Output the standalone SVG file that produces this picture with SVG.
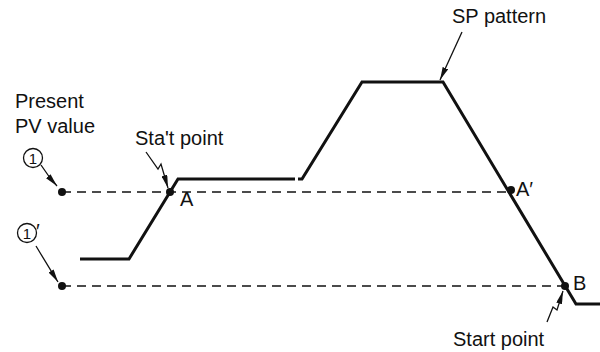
<svg xmlns="http://www.w3.org/2000/svg" width="600" height="352" viewBox="0 0 600 352">
<style>
text{font-family:"Liberation Sans",Arial,sans-serif;font-size:20px;fill:#111}
.small{font-size:15px}
.trace{fill:none;stroke:#111;stroke-width:3;stroke-linejoin:miter}
.dash{fill:none;stroke:#111;stroke-width:1.3;stroke-dasharray:9 6}
.lead{fill:none;stroke:#111;stroke-width:1.3}
.dot{fill:#111}
.ring{fill:none;stroke:#111;stroke-width:1.3}
</style>
<defs>
<marker id="ah" viewBox="0 0 13 6" refX="13" refY="3" markerWidth="13" markerHeight="6" markerUnits="userSpaceOnUse" orient="auto">
<path d="M0,0 L13,3 L0,6 z" fill="#111"/>
</marker>
</defs>
<rect width="600" height="352" fill="#fff"/>
<g id="connectors">
<polyline class="trace" points="80,259 129,259 178,179 295,179"/>
<polyline class="trace" points="298,179 302,179 362,82 443,82 576,304 600,304"/>
<line class="dash" x1="62" y1="192" x2="511" y2="192"/>
<line class="dash" x1="62" y1="286" x2="565" y2="286"/>
<path class="lead" d="M41,165 Q48,176 57,186" marker-end="url(#ah)"/>
<path class="lead" d="M36,246 Q48,266 58,282" marker-end="url(#ah)"/>
<polyline class="lead" points="146,152 158,169 161,164 168,188" marker-end="url(#ah)"/>
<polyline class="lead" points="547,322 553,307 557,310 563,291" marker-end="url(#ah)"/>
<line class="lead" x1="462" y1="32" x2="440" y2="80" marker-end="url(#ah)"/>
</g>
<g id="pv-label">
<text x="15" y="108">Present</text>
<text x="15" y="133">PV value</text>
</g>
<g id="point-1">
<circle class="ring" cx="33" cy="158" r="9.5"/>
<text class="small" x="33" y="163.5" text-anchor="middle">1</text>
<circle class="dot" cx="62" cy="192" r="4"/>
</g>
<g id="point-1p">
<circle class="ring" cx="27" cy="233" r="9.5"/>
<text class="small" x="27" y="238.5" text-anchor="middle">1</text>
<text x="36" y="238">′</text>
<circle class="dot" cx="62" cy="286" r="4"/>
</g>
<g id="point-A">
<circle class="dot" cx="170" cy="192" r="4"/>
<text x="180" y="206">A</text>
<text x="135" y="145">Sta't point</text>
</g>
<g id="point-Ap">
<circle class="dot" cx="511" cy="190" r="4"/>
<text x="516" y="196">A′</text>
</g>
<g id="point-B">
<circle class="dot" cx="565" cy="286" r="4"/>
<text x="573" y="290">B</text>
<text x="453" y="346">Start point</text>
</g>
<g id="sp-label">
<text x="452" y="23">SP pattern</text>
</g>
</svg>
